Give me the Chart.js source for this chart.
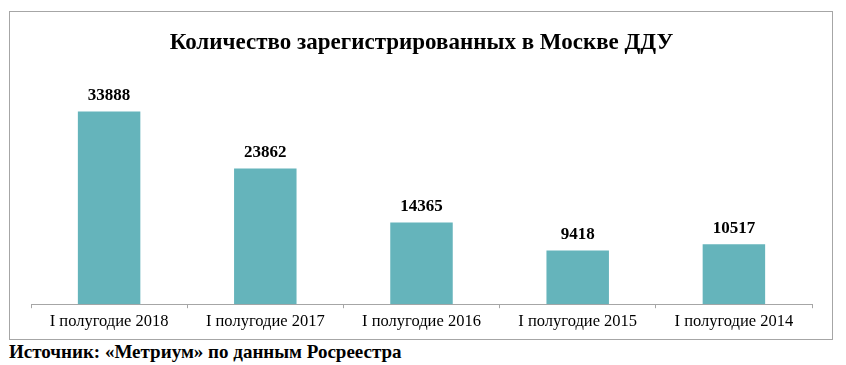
<!DOCTYPE html>
<html>
<head>
<meta charset="utf-8">
<script src="https://cdn.jsdelivr.net/npm/chart.js@4"></script>
<style>
  body { margin: 0; background: #fff; width: 846px; height: 365px; position: relative; overflow: hidden; }
  #box { position: absolute; left: 9px; top: 11px; width: 822px; height: 327px; border: 1px solid #a6a6a6; }
  #source { position: absolute; left: 9px; top: 341px; font: bold 19px "Liberation Serif", serif; color: #000; white-space: nowrap; }
</style>
</head>
<body>
<div id="box"><canvas id="myChart"></canvas></div>
<div id="source">Источник: «Метриум» по данным Росреестра</div>
<script>
var titleText = 'Количество зарегистрированных в Москве ДДУ';
var periods = ['I полугодие 2018', 'I полугодие 2017', 'I полугодие 2016', 'I полугодие 2015', 'I полугодие 2014'];
var contracts = [33888, 23862, 14365, 9418, 10517];

var valueLabels = {
    id: 'valueLabels',
    afterDatasetsDraw: function(chart) {
        var ctx = chart.ctx;
        var meta = chart.getDatasetMeta(0);
        ctx.save();
        ctx.font = 'bold 17px "Liberation Serif", serif';
        ctx.fillStyle = '#000';
        ctx.textAlign = 'center';
        ctx.textBaseline = 'middle';
        meta.data.forEach(function(bar, i) {
            ctx.fillText(String(chart.data.datasets[0].data[i]), bar.x, bar.y - 16);
        });
        ctx.restore();
    }
};

var ctx = document.getElementById('myChart').getContext('2d');
var myChart = new Chart(ctx, {
    type: 'bar',
    data: {
        labels: periods,
        datasets: [{
            data: contracts,
            backgroundColor: '#65B4BB',
            borderWidth: 0,
            categoryPercentage: 1,
            barPercentage: 0.4
        }]
    },
    options: {
        responsive: true,
        maintainAspectRatio: false,
        animation: false,
        layout: { padding: { left: 21, right: 20, top: 0, bottom: 3 } },
        plugins: {
            legend: { display: false },
            tooltip: { enabled: false },
            title: {
                display: true,
                text: titleText,
                color: '#000',
                font: { family: '"Liberation Serif", serif', size: 23, weight: 'bold' },
                padding: { top: 17, bottom: 20 }
            }
        },
        scales: {
            x: {
                grid: { display: true, drawOnChartArea: false, drawTicks: true, tickLength: 4, color: '#a6a6a6', offset: true },
                border: { display: true, color: '#a6a6a6' },
                ticks: { color: '#000', padding: 4, font: { family: '"Liberation Serif", serif', size: 16.5 }, maxRotation: 0 }
            },
            y: {
                display: false,
                min: 0,
                max: 40000
            }
        }
    },
    plugins: [valueLabels]
});
</script>
</body>
</html>
